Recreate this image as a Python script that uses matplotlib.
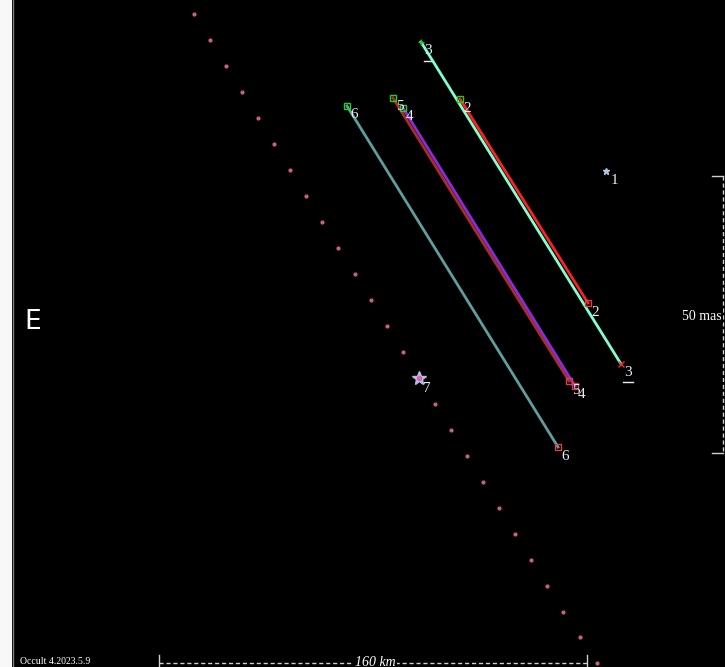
import numpy as np
import matplotlib.pyplot as plt

# chord endpoints (plot units, y downward)
chord_ids = ['3', '2', '5', '4', '6']
chord_x0 = [421, 460, 393, 403, 347]
chord_y0 = [42, 99, 98, 108, 106]
chord_x1 = [621, 588, 569, 575, 558]
chord_y1 = [364, 303, 381, 386, 447]
chord_colors = ['#7fffd4', '#ff2020', '#a8301c', '#8a2be2', '#5f9ea0']

# single events (misses / points)
point_ids = ['1', '7']
point_x = [606, 419]
point_y = [171, 378]

# asteroid path dots
path_x = [194, 210, 226, 242, 258, 274, 290, 306, 322, 338, 355, 371, 387,
          403, 419, 435, 451, 467, 483, 499, 515, 531, 547, 563, 580, 597]
path_y = [14, 40, 66, 92, 118, 144, 170, 196, 222, 248, 274, 300, 326,
          352, 378, 404, 430, 456, 482, 508, 534, 560, 586, 612, 637, 663]

fig = plt.figure(figsize=(7.25, 6.67), dpi=100)
fig.patch.set_facecolor('#f8f8f8')
ax = fig.add_axes([12/725, 0, 713/725, 1])
ax.set_facecolor('black')
ax.set_xlim(12, 725)
ax.set_ylim(667, 0)
ax.axis('off')
ax.add_patch(plt.Rectangle((12, 0), 713, 667, color='black', zorder=0))
ax.axvline(12.5, color='#808080', lw=1)

ax.scatter(path_x, path_y, s=4, color='#d0607a', zorder=2)

lab = dict(color='#e8ecf4', fontsize=11, family='Liberation Serif', zorder=5)
for i in range(len(chord_ids)):
    ax.plot([chord_x0[i], chord_x1[i]], [chord_y0[i], chord_y1[i]],
            color=chord_colors[i], lw=2, zorder=3)
    if chord_ids[i] == '3':
        ax.plot(chord_x0[i], chord_y0[i], marker='+', color='#20c020', ms=5, zorder=4)
        ax.plot(chord_x1[i], chord_y1[i], marker='x', color='#e03030', ms=4, zorder=4)
    else:
        ax.plot(chord_x0[i], chord_y0[i], marker='s', mfc='none', mec='#20d020', ms=5, zorder=4)
        ax.plot(chord_x1[i], chord_y1[i], marker='s', mfc='none', mec='#e04040', ms=5, zorder=4)
    ax.text(chord_x0[i] + 7, chord_y0[i] + 9, chord_ids[i], ha='center', va='center', **lab)
    ax.text(chord_x1[i] + 7, chord_y1[i] + 9, chord_ids[i], ha='center', va='center', **lab)
    if chord_ids[i] == '3':
        ax.plot([chord_x0[i] + 3, chord_x0[i] + 12], [chord_y0[i] + 19, chord_y0[i] + 19], color='#e8ecf4', lw=1)
        ax.plot([chord_x1[i] + 2, chord_x1[i] + 12], [chord_y1[i] + 18, chord_y1[i] + 18], color='#e8ecf4', lw=1)

for i in range(len(point_ids)):
    if point_ids[i] == '7':
        ax.plot(point_x[i], point_y[i], marker='*', color='#b0c0e8', ms=10, zorder=4)
        ax.plot(point_x[i], point_y[i], marker='o', color='#e060b0', ms=3, zorder=5)
    else:
        ax.plot(point_x[i], point_y[i], marker='*', color='#b0c4ec', ms=5, zorder=4)
    ax.text(point_x[i] + 8, point_y[i] + 10, point_ids[i], ha='center', va='center', **lab)

ax.text(33, 322, 'E', color='white', fontsize=19, ha='center', va='center', family='DejaVu Sans')

# scale bars
sb = dict(color='#d0d0d0', lw=1, ls=(0, (3, 2)))
ax.plot([159, 587], [663, 663], **sb)
ax.plot([159, 159], [655, 667], color='#d0d0d0', lw=1)
ax.plot([587, 587], [655, 667], color='#d0d0d0', lw=1)
ax.text(375, 662, '160 km', color='white', fontsize=10, style='italic', family='Liberation Serif',
        ha='center', va='center', bbox=dict(facecolor='black', edgecolor='none', pad=1))
ax.plot([723, 723], [176, 453], **sb)
ax.plot([712, 723], [176, 176], color='#d0d0d0', lw=1)
ax.plot([712, 723], [453, 453], color='#d0d0d0', lw=1)
ax.text(682, 316, '50 mas', color='white', fontsize=10, family='Liberation Serif',
        ha='left', va='center', bbox=dict(facecolor='black', edgecolor='none', pad=1))

ax.text(20, 661, 'Occult 4.2023.5.9', color='white', fontsize=7, family='Liberation Serif',
        ha='left', va='center')

fig.savefig('out.png', dpi=100, facecolor=fig.get_facecolor())
